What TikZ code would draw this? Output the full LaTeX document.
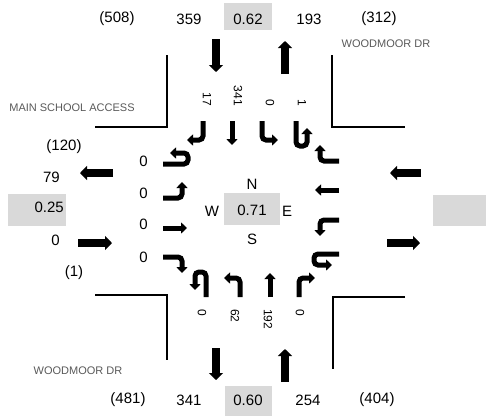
\documentclass[tikz,border=0pt]{standalone}
\usepackage{fontspec}
\setmainfont{Liberation Sans}
\usetikzlibrary{arrows.meta}
\definecolor{boxgray}{RGB}{217,217,217}
\tikzset{lane/.style={line width=5pt,rounded corners=4pt,-{Triangle[length=6pt,width=11pt]}},
  flow/.style={line width=7.5pt,-{Triangle[length=7pt,width=14pt]}},
  road/.style={line width=1.4pt},
  vol/.style={font=\fontsize{15}{18}\selectfont,inner sep=0pt},
  lanevol/.style={font=\fontsize{12}{14}\selectfont,inner sep=0pt,rotate=-90},
  street/.style={font=\fontsize{11}{13}\selectfont,text=black!65,inner sep=0pt},
  pbox/.style={fill=boxgray}}
\begin{document}
\begin{tikzpicture}[x=1pt,y=-1pt]
  \useasboundingbox (0,0) rectangle (486,416);

  % road edges
  \draw[road] (95,127) -- (167,127) -- (167,55);
  \draw[road] (332,55) -- (332,127) -- (405,127);
  \draw[road] (95,295) -- (167,295) -- (167,360);
  \draw[road] (405,297) -- (333,297) -- (333,369);

  % street names
  \node[street] (nstreet) at (386,44) {WOODMOOR DR};
  \node[street] (wstreet) at (72,108) {MAIN SCHOOL ACCESS};
  \node[street] (sstreet) at (78,371) {WOODMOOR DR};

  % lane arrows, one approach turned four times
  \foreach \a in {0,90,180,270}{
    \begin{scope}[rotate around={\a:(251,209)}]
      \draw[lane] (203,121) -- (203,140) -- (187,140);
      \draw[lane] (232,121) -- (232,145);
      \draw[lane] (262,121) -- (262,140) -- (278,140);
      \draw[lane] (296,121) -- (296,146) -- (307,146) -- (307,128);
    \end{scope}}

  % approach and exit flows
  \draw[flow] (216,39) -- (216,72);
  \draw[flow] (285,74) -- (285,41);
  \draw[flow] (113,173) -- (80,173);
  \draw[flow] (78,243) -- (112,243);
  \draw[flow] (421,173) -- (390,173);
  \draw[flow] (387,243) -- (420,243);
  \draw[flow] (216,348) -- (216,380);
  \draw[flow] (285,382) -- (285,349);

  % peak hour factors
  \fill[pbox] (224,3) rectangle (272,30);
  \fill[pbox] (225,386) rectangle (272,416);
  \fill[pbox] (8,194) rectangle (66,226);
  \fill[pbox] (433,195) rectangle (486,226);
  \fill[pbox] (224,193) rectangle (280,225);

  % north leg
  \node[vol] (n-ext) at (117,19) {(508)};
  \node[vol] (n-in) at (189,19) {359};
  \node[vol] (n-phf) at (248,19) {0.62};
  \node[vol] (n-out) at (309,19) {193};
  \node[vol] (n-ext2) at (379,19) {(312)};
  \foreach \x/\v in {207/17,238/341,270/0,302/1}
    \node[lanevol,anchor=east] (n-\x) at (\x,106) {\v};

  % south leg
  \node[vol] (s-ext) at (128,400) {(481)};
  \node[vol] (s-out) at (189,400) {341};
  \node[vol] (s-phf) at (248,400) {0.60};
  \node[vol] (s-in) at (308,400) {254};
  \node[vol] (s-ext2) at (377,400) {(404)};
  \foreach \x/\v in {202/0,235/62,268/192,300/0}
    \node[lanevol,anchor=west] (s-\x) at (\x,309) {\v};

  % west leg
  \node[vol] (w-ext) at (64,147) {(120)};
  \node[vol,anchor=east] (w-out) at (60,177) {79};
  \node[vol,anchor=east] (w-phf) at (64,207) {0.25};
  \node[vol,anchor=east] (w-in) at (60,240) {0};
  \node[vol] (w-ext2) at (74,273) {(1)};
  \foreach \y in {161,193,224,257}
    \node[vol,anchor=east] (w-\y) at (148,\y) {0};

  % intersection
  \node[vol] (north) at (252,184) {N};
  \node[vol] (west) at (212,211) {W};
  \node[vol] (phf) at (252,210) {0.71};
  \node[vol] (east) at (287,211) {E};
  \node[vol] (south) at (252,239) {S};
\end{tikzpicture}
\end{document}
